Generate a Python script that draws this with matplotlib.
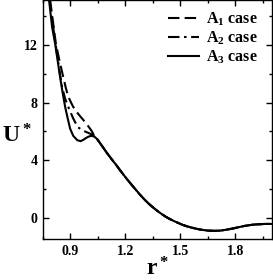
import matplotlib
matplotlib.use("Agg")
import matplotlib.pyplot as plt
from matplotlib.ticker import MultipleLocator

plt.rcParams["font.family"] = "Liberation Serif"
plt.rcParams["font.weight"] = "bold"
plt.rcParams["mathtext.fontset"] = "custom"
plt.rcParams["mathtext.rm"] = "Liberation Serif:bold"
plt.rcParams["mathtext.it"] = "Liberation Serif:bold"
plt.rcParams["mathtext.bf"] = "Liberation Serif:bold"
plt.rcParams["mathtext.default"] = "bf"

# shared tail of all three potentials (r* > ~1.04)
r_tail = [1.045, 1.06, 1.08, 1.10, 1.125, 1.15, 1.17, 1.19, 1.215, 1.24, 1.26,
          1.28, 1.305, 1.33, 1.355, 1.38, 1.40, 1.42, 1.44, 1.465, 1.49, 1.51,
          1.535, 1.56, 1.59, 1.62, 1.65, 1.686, 1.72, 1.75, 1.785, 1.82, 1.85,
          1.88, 1.905, 1.93, 1.96, 2.0]
u_tail = [5.48, 5.22, 4.86, 4.5, 4.08, 3.68, 3.33, 3.0, 2.6, 2.22, 1.92,
          1.62, 1.28, 0.97, 0.7, 0.45, 0.27, 0.1, -0.04, -0.2, -0.34, -0.45,
          -0.56, -0.65, -0.74, -0.81, -0.86, -0.88, -0.86, -0.8, -0.72, -0.62, -0.54,
          -0.48, -0.44, -0.42, -0.4, -0.4]

r_a1 = [0.789, 0.82, 0.84, 0.86, 0.875, 0.888, 0.915, 0.94, 0.97, 0.995, 1.015, 1.03]
u_a1 = [15.1, 12.1, 10.9, 9.8, 9.0, 8.4, 7.7, 7.25, 6.8, 6.4, 6.05, 5.7]

r_a2 = [0.786, 0.818, 0.84, 0.854, 0.87, 0.888, 0.915, 0.94, 0.97, 0.998, 1.015, 1.03]
u_a2 = [15.1, 12.1, 10.2, 9.1, 8.3, 7.7, 6.9, 6.3, 6.05, 5.9, 5.8, 5.65]

r_a3 = [0.783, 0.80, 0.816, 0.83, 0.843, 0.857, 0.871, 0.885, 0.898, 0.915,
        0.937, 0.955, 0.97, 0.985, 1.0, 1.015, 1.03]
u_a3 = [15.1, 13.2, 12.1, 10.9, 9.8, 8.7, 7.7, 6.9, 6.2, 5.7,
        5.4, 5.33, 5.42, 5.55, 5.65, 5.7, 5.65]

labels = [r"A$_1$ case", r"A$_2$ case", r"A$_3$ case"]

fig = plt.figure(figsize=(2.73, 2.80), dpi=100)
ax = fig.add_axes([0.1575, 0.146, 0.8385, 0.854])

ax.plot(r_a1 + r_tail, u_a1 + u_tail, color="black", lw=1.5,
        dashes=(5.5, 2.5), label=labels[0])
ax.plot(r_a2 + r_tail, u_a2 + u_tail, color="black", lw=1.5,
        dashes=(5.5, 2.2, 1.2, 2.2), label=labels[1])
ax.plot(r_a3 + r_tail, u_a3 + u_tail, color="black", lw=1.5,
        label=labels[2])

ax.set_xlim(0.75, 2.0)
ax.set_ylim(-1.45, 15.1)
ax.set_xticks([0.9, 1.2, 1.5, 1.8])
ax.xaxis.set_minor_locator(MultipleLocator(0.15))
ax.yaxis.set_major_locator(MultipleLocator(4))
ax.yaxis.set_minor_locator(MultipleLocator(2))
ax.tick_params(which="both", direction="in", top=True, right=True,
               labelsize=10, width=1)
ax.tick_params(which="major", length=4, pad=4)
ax.tick_params(which="minor", length=2.5)
for lbl in ax.get_xticklabels() + ax.get_yticklabels():
    lbl.set_fontweight("bold")
for s in ax.spines.values():
    s.set_linewidth(1)

ax.set_xlabel(r"r$^*$", fontsize=17, fontweight="bold", labelpad=0)
ax.set_ylabel(r"U$^*$", fontsize=17, fontweight="bold", rotation=0)
ax.yaxis.set_label_coords(-0.115, 0.385)

leg = ax.legend(loc="upper right", bbox_to_anchor=(0.958, 0.975),
                frameon=False, fontsize=11.5, handlelength=2.0,
                labelspacing=0.1, handletextpad=0.4, borderaxespad=0,
                borderpad=0.3)
for t in leg.get_texts():
    t.set_fontweight("bold")

fig.savefig("out.png", dpi=100)
